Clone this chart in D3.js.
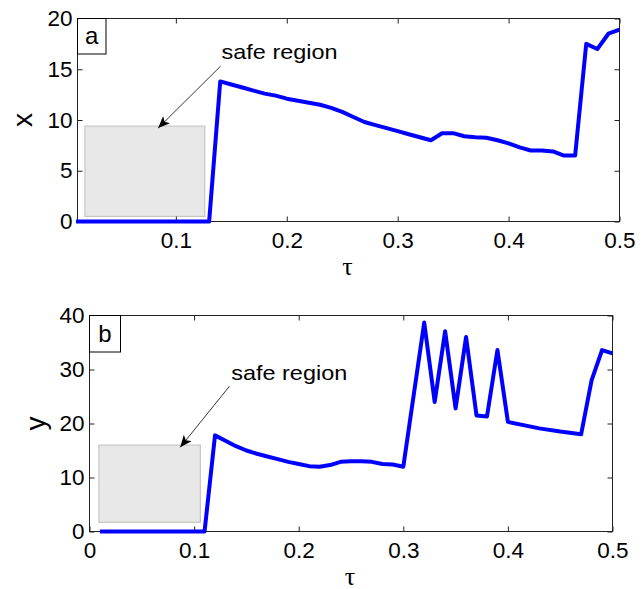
<!DOCTYPE html>
<html>
<head>
<meta charset="utf-8">
<script src="https://cdn.jsdelivr.net/npm/d3@7"></script>
<style>
  body { margin: 0; background: #fff; }
  svg { display: block; font-family: "Liberation Sans", Arial, sans-serif; }
</style>
</head>
<body>
<svg id="canvas" width="644" height="589"></svg>
<script>
// panel a: x vs tau
let tauA = [0.01, 0.02, 0.03, 0.04, 0.05, 0.06, 0.07, 0.08, 0.09, 0.10, 0.11, 0.12, 0.13,
            0.14, 0.15, 0.16, 0.17, 0.18, 0.19, 0.20, 0.21, 0.22, 0.23, 0.24, 0.25, 0.26,
            0.27, 0.28, 0.29, 0.30, 0.31, 0.32, 0.33, 0.34, 0.35, 0.36, 0.37, 0.38, 0.39,
            0.40, 0.41, 0.42, 0.43, 0.44, 0.45, 0.46, 0.47, 0.48, 0.49, 0.50]
let xVals = [0, 0, 0, 0, 0, 0, 0, 0, 0, 0, 0, 0, 0,
             13.8, 13.5, 13.2, 12.9, 12.6, 12.4, 12.1, 11.9, 11.7, 11.5, 11.2, 10.8, 10.3,
             9.8, 9.5, 9.2, 8.9, 8.6, 8.3, 8.0, 8.7, 8.7, 8.4, 8.3, 8.25, 8.0,
             7.7, 7.3, 7.0, 7.0, 6.9, 6.5, 6.5, 17.5, 17.0, 18.5, 18.9]

// panel b: y vs tau
let tauB = [0.01, 0.02, 0.03, 0.04, 0.05, 0.06, 0.07, 0.08, 0.09, 0.10, 0.11,
            0.12, 0.13, 0.14, 0.15, 0.16, 0.17, 0.18, 0.19, 0.20, 0.21, 0.22, 0.23,
            0.24, 0.25, 0.26, 0.27, 0.28, 0.29, 0.30, 0.32, 0.33, 0.34, 0.35, 0.36,
            0.37, 0.38, 0.39, 0.40, 0.43, 0.45, 0.47, 0.48, 0.49, 0.50]
let yVals = [0, 0, 0, 0, 0, 0, 0, 0, 0, 0, 0,
             17.8, 16.8, 15.8, 15.0, 14.4, 13.9, 13.4, 12.9, 12.5, 12.1, 12.0, 12.3,
             12.9, 13.0, 13.0, 12.9, 12.5, 12.4, 12.0, 38.7, 24.0, 37.1, 22.8, 36.0,
             21.5, 21.3, 33.6, 20.3, 19.1, 18.5, 18.0, 28.0, 33.6, 33.0]

let xTicksA = [0.1, 0.2, 0.3, 0.4, 0.5]
let yTicksA = [0, 5, 10, 15, 20]
let xTicksB = [0, 0.1, 0.2, 0.3, 0.4, 0.5]
let yTicksB = [0, 10, 20, 30, 40]

// safe region boxes [tau0, tau1, v0, v1]
let safeA = [0.018, 0.126, 0.5, 9.4]
let safeB = [0.009, 0.106, 1.7, 16.0]

// annotation: text anchor and arrow [tauFrom, vFrom, tauTo, vTo]
let noteA = {text: [0.1412, 15.97], arrow: [0.1403, 15.3, 0.084, 9.2]}
let noteB = {text: [0.1355, 28.0], arrow: [0.1338, 26.9, 0.0867, 15.6]}

let canvas = d3.select('#canvas')

let defs = canvas.append('defs')
defs.append('marker')
    .attr('id', 'head')
    .attr('viewBox', '0 0 12 10')
    .attr('refX', 12)
    .attr('refY', 5)
    .attr('markerWidth', 12)
    .attr('markerHeight', 10)
    .attr('markerUnits', 'userSpaceOnUse')
    .attr('orient', 'auto')
    .append('path')
    .attr('d', 'M0,0 L12,5 L0,10 L3,5 Z')
    .attr('fill', '#000')

let drawPanel = (opt) => {
    let xScale = d3.scaleLinear().domain(opt.xDomain).range([opt.left, opt.right])
    let yScale = d3.scaleLinear().domain(opt.yDomain).range([opt.bottom, opt.top])
    let g = canvas.append('g')

    // safe region
    g.append('rect')
        .attr('x', xScale(opt.safe[0]))
        .attr('y', yScale(opt.safe[3]))
        .attr('width', xScale(opt.safe[1]) - xScale(opt.safe[0]))
        .attr('height', yScale(opt.safe[2]) - yScale(opt.safe[3]))
        .attr('fill', '#e8e8e8')
        .attr('stroke', '#c9c6c2')
        .attr('stroke-width', 1.2)

    // axes, ticks inward on all four sides
    let axB = d3.axisBottom(xScale).tickValues(opt.xTicks).tickSizeInner(-5).tickSizeOuter(0)
        .tickFormat(d3.format('~g')).tickPadding(11)
    let axT = d3.axisTop(xScale).tickValues(opt.xTicks).tickSizeInner(-5).tickSizeOuter(0).tickFormat('')
    let axL = d3.axisLeft(yScale).tickValues(opt.yTicks).tickSizeInner(-5).tickSizeOuter(0).tickPadding(5)
    let axR = d3.axisRight(yScale).tickValues(opt.yTicks).tickSizeInner(-5).tickSizeOuter(0).tickFormat('')

    let parts = [
        g.append('g').attr('transform', 'translate(0,' + opt.bottom + ')').call(axB),
        g.append('g').attr('transform', 'translate(0,' + opt.top + ')').call(axT),
        g.append('g').attr('transform', 'translate(' + opt.left + ',0)').call(axL),
        g.append('g').attr('transform', 'translate(' + opt.right + ',0)').call(axR)
    ]
    parts.forEach((p) => {
        p.select('.domain').remove()
        p.selectAll('line').attr('stroke', '#222')
        p.selectAll('text').attr('font-size', 22.5).attr('fill', '#000')
            .attr('font-family', '"Liberation Sans", Arial, sans-serif')
    })

    g.append('rect')
        .attr('x', opt.left).attr('y', opt.top)
        .attr('width', opt.right - opt.left).attr('height', opt.bottom - opt.top)
        .attr('fill', 'none').attr('stroke', '#222').attr('stroke-width', 1)

    // data line
    let pts = opt.tau.map((t, i) => [t, opt.vals[i]])
    g.append('path')
        .datum(pts)
        .attr('d', d3.line().x((d) => xScale(d[0])).y((d) => yScale(d[1])))
        .attr('fill', 'none')
        .attr('stroke', '#0000ff')
        .attr('stroke-width', 4)
        .attr('stroke-linejoin', 'round')

    // annotation
    g.append('line')
        .attr('x1', xScale(opt.note.arrow[0])).attr('y1', yScale(opt.note.arrow[1]))
        .attr('x2', xScale(opt.note.arrow[2])).attr('y2', yScale(opt.note.arrow[3]))
        .attr('stroke', '#000').attr('stroke-width', 0.8)
        .attr('marker-end', 'url(#head)')
    g.append('text')
        .attr('x', xScale(opt.note.text[0])).attr('y', yScale(opt.note.text[1]))
        .attr('font-size', 21)
        .attr('textLength', 116).attr('lengthAdjust', 'spacingAndGlyphs')
        .text('safe region')

    // panel letter box
    g.append('rect')
        .attr('x', opt.left).attr('y', opt.top)
        .attr('width', opt.boxW).attr('height', opt.boxH)
        .attr('fill', '#fff').attr('stroke', '#000').attr('stroke-width', 1)
    g.append('text')
        .attr('x', opt.left + opt.boxW / 2).attr('y', opt.top + opt.boxH / 2 + 8)
        .attr('text-anchor', 'middle').attr('font-size', 24)
        .text(opt.letter)

    // axis labels
    g.append('text')
        .attr('transform', 'translate(' + opt.yLabelX + ',' + (opt.top + opt.bottom) / 2 + ') rotate(-90)')
        .attr('text-anchor', 'middle').attr('font-size', 28)
        .text(opt.yLabel)
    g.append('text')
        .attr('x', (opt.left + opt.right) / 2 - 1).attr('y', opt.bottom + 53)
        .attr('text-anchor', 'middle').attr('font-size', 26)
        .attr('font-family', '"Liberation Serif", "DejaVu Serif", serif')
        .text('τ')
}

drawPanel({
    left: 77.5, right: 619.5, top: 18.5, bottom: 221.5,
    xDomain: [0.0113, 0.5], yDomain: [0, 20],
    xTicks: xTicksA, yTicks: yTicksA,
    tau: tauA, vals: xVals, safe: safeA, note: noteA,
    letter: 'a', boxW: 28.5, boxH: 35.5, yLabel: 'x', yLabelX: 32
})

drawPanel({
    left: 89.5, right: 612.5, top: 315.5, bottom: 531.5,
    xDomain: [0, 0.5], yDomain: [0, 40],
    xTicks: xTicksB, yTicks: yTicksB,
    tau: tauB, vals: yVals, safe: safeB, note: noteB,
    letter: 'b', boxW: 31, boxH: 36.5, yLabel: 'y', yLabelX: 45
})
</script>
</body>
</html>
